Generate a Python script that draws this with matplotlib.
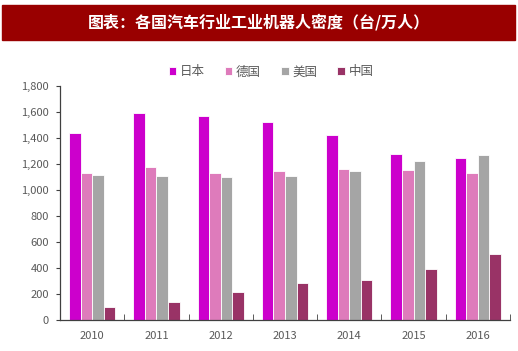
import numpy as np
import matplotlib.pyplot as plt

plt.rcParams['font.family'] = ['Noto Sans CJK SC', 'DejaVu Sans']

years = ['2010', '2011', '2012', '2013', '2014', '2015', '2016']
japan = [1436, 1590, 1567, 1523, 1418, 1279, 1244]
germany = [1133, 1177, 1133, 1144, 1157, 1152, 1133]
usa = [1113, 1105, 1095, 1110, 1146, 1221, 1264]
china = [102, 141, 215, 282, 305, 395, 508]

series = [('日本', japan, '#CC00CC'),
          ('德国', germany, '#DE7BBB'),
          ('美国', usa, '#A5A5A5'),
          ('中国', china, '#993366')]

fig = plt.figure(figsize=(5.18, 3.51), dpi=100)

# title banner
fig.patches.append(plt.Rectangle((2/518, 1 - 40/351), 513/518, 35/351,
                                 transform=fig.transFigure, color='#990000', zorder=0))
fig.text(0.5, 1 - 22.5/351, '图表：各国汽车行业工业机器人密度（台/万人）',
         ha='center', va='center', color='white', fontsize=11.5, fontweight='bold')

ax = fig.add_axes([60/518, 1 - 320/351, 450/518, 234.3/351])
x = np.arange(len(years))
w = 0.18
for i, (name, vals, col) in enumerate(series):
    ax.bar(x + (i - 1.5) * w, vals, width=w, color=col, edgecolor='white',
           linewidth=0.6, label=name)

ax.set_xlim(-0.5, len(years) - 0.5)
ax.set_ylim(0, 1800)
ax.set_yticks(range(0, 1801, 200))
ax.set_yticklabels([f'{v:,}' for v in range(0, 1801, 200)])
ax.set_xticks(x)
ax.set_xticklabels(years)
ax.set_xticks(np.arange(-0.5, len(years), 1), minor=True)
ax.tick_params(axis='x', which='major', length=0, pad=8)
ax.tick_params(axis='x', which='minor', length=4, direction='in', color='#404040')
ax.tick_params(axis='y', length=3, color='#404040', pad=5)
ax.tick_params(labelsize=8, labelcolor='#595959')
for s in ['top', 'right']:
    ax.spines[s].set_visible(False)
for s in ['left', 'bottom']:
    ax.spines[s].set_color('#404040')
    ax.spines[s].set_linewidth(0.9)

leg = fig.legend(loc='center', bbox_to_anchor=(271/518, 1 - 72/351), ncol=4,
                 frameon=False, fontsize=9, handlelength=0.6, handleheight=0.6,
                 handletextpad=0.3, columnspacing=1.6)
for t in leg.get_texts():
    t.set_color('#595959')

fig.savefig('out.png', dpi=100)
